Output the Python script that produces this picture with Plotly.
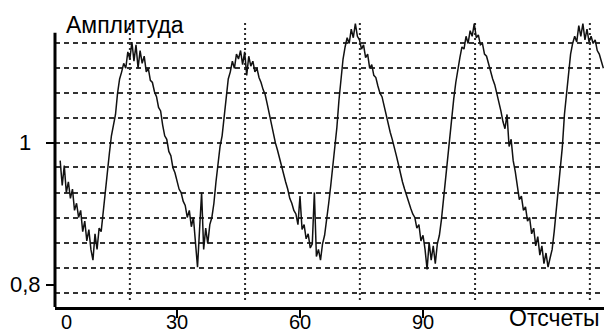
import numpy as np
import plotly.graph_objects as go

# Sample positions (half-sample resolution) and measured amplitude
samples = np.arange(1.5, 134.01, 0.5)
amplitude = [
    0.975, 0.940, 0.968, 0.930, 0.945, 0.922, 0.935, 0.905, 0.915, 0.895,
    0.905, 0.875, 0.890, 0.862, 0.878, 0.850, 0.835, 0.872, 0.850, 0.880,
    0.875, 0.905, 0.935, 0.958, 0.985, 1.010, 1.025, 1.040, 1.070, 1.090,
    1.100, 1.112, 1.105, 1.128, 1.118, 1.142, 1.115, 1.138, 1.105, 1.130,
    1.112, 1.122, 1.100, 1.105, 1.088, 1.085, 1.072, 1.065, 1.050, 1.045,
    1.025, 1.010, 1.005, 0.988, 0.982, 0.965, 0.958, 0.945, 0.935, 0.930,
    0.918, 0.912, 0.895, 0.905, 0.882, 0.895, 0.860, 0.825, 0.878, 0.930,
    0.850, 0.880, 0.858, 0.885, 0.895, 0.915, 0.945, 0.975, 0.995, 1.010,
    1.040, 1.060, 1.090, 1.100, 1.115, 1.105, 1.125, 1.118, 1.130, 1.110,
    1.128, 1.095, 1.122, 1.108, 1.115, 1.100, 1.105, 1.092, 1.085, 1.075,
    1.068, 1.055, 1.040, 1.030, 1.010, 1.000, 0.990, 0.978, 0.968, 0.955,
    0.945, 0.935, 0.922, 0.915, 0.905, 0.900, 0.885, 0.925, 0.878, 0.885,
    0.865, 0.872, 0.852, 0.858, 0.930, 0.840, 0.850, 0.835, 0.858, 0.870,
    0.890, 0.915, 0.940, 0.965, 0.995, 1.022, 1.060, 1.095, 1.118, 1.135,
    1.148, 1.140, 1.160, 1.148, 1.168, 1.150, 1.145, 1.132, 1.138, 1.120,
    1.125, 1.105, 1.110, 1.095, 1.092, 1.080, 1.070, 1.065, 1.052, 1.040,
    1.030, 1.015, 1.005, 0.995, 0.982, 0.970, 0.955, 0.945, 0.935, 0.925,
    0.918, 0.908, 0.900, 0.895, 0.880, 0.885, 0.862, 0.870, 0.850, 0.822,
    0.860, 0.835, 0.855, 0.830, 0.858, 0.870, 0.892, 0.920, 0.948, 0.985,
    1.010, 1.035, 1.062, 1.085, 1.105, 1.120, 1.135, 1.132, 1.150, 1.140,
    1.158, 1.150, 1.168, 1.148, 1.152, 1.138, 1.140, 1.125, 1.122, 1.110,
    1.102, 1.090, 1.082, 1.070, 1.060, 1.045, 1.030, 1.020, 1.040, 0.995,
    1.005, 0.975, 0.960, 0.940, 0.920, 0.925, 0.905, 0.910, 0.890, 0.895,
    0.872, 0.880, 0.855, 0.868, 0.842, 0.855, 0.830, 0.845, 0.825, 0.838,
    0.850, 0.875, 0.905, 0.935, 0.965, 0.995, 1.040, 1.070, 1.095, 1.125,
    1.140, 1.150, 1.142, 1.165, 1.150, 1.168, 1.145, 1.160, 1.142, 1.150,
    1.140, 1.145, 1.130, 1.125, 1.115, 1.105,
]

# Axis ticks and grid positions
x_ticks = [30, 60, 90]
x_tick_text = ["30", "60", "90"]
y_ticks = [0.8, 1.0]
y_tick_text = ["0,8", "1"]
grid_y = [1.141, 1.106, 1.070, 1.035, 1.000, 0.966, 0.930, 0.894, 0.859, 0.824, 0.789]
peak_marks = [18.5, 46.6, 74.6, 102.7, 130.7]

FONT = "Arial, Liberation Sans, sans-serif"
X_RANGE = [0.24, 134.15]
Y_RANGE = [0.769, 1.180]
LABEL_FONT = dict(family=FONT, size=20, color="black")

fig = go.Figure()
fig.add_trace(go.Scatter(
    x=samples, y=amplitude, mode="lines",
    line=dict(color="#111111", width=1.5),
    hoverinfo="skip",
))

shapes = []
# dotted verticals at each peak
for xv in peak_marks:
    shapes.append(dict(
        type="line", xref="x", yref="y", x0=xv, x1=xv, y0=0.779, y1=1.169,
        line=dict(color="#2a2a2a", width=2, dash="2px,3px"), layer="below",
    ))
# left axis line
shapes.append(dict(
    type="line", xref="paper", yref="y", x0=0, x1=0, y0=Y_RANGE[0], y1=1.155,
    line=dict(color="black", width=3),
))

annotations = [
    dict(text="Амплитуда", xref="paper", yref="paper", x=0.017, y=0.966,
         xanchor="left", yanchor="middle", showarrow=False,
         font=dict(family=FONT, size=23, color="black")),
    dict(text="Отсчеты", xref="paper", yref="paper", x=0.9945, y=-0.038,
         xanchor="right", yanchor="middle", showarrow=False,
         font=dict(family=FONT, size=23, color="black")),
    # the zero label sits just right of the corner
    dict(text="0", xref="paper", yref="paper", x=0, y=0, xshift=11, yshift=-28,
         xanchor="center", yanchor="bottom", showarrow=False, font=LABEL_FONT),
]
for xv, txt in zip(x_ticks, x_tick_text):
    annotations.append(dict(
        text=txt, xref="x", yref="paper", x=xv, y=0, yshift=-28,
        xanchor="center", yanchor="bottom", showarrow=False, font=LABEL_FONT))
for yv, txt, shift in zip(y_ticks, y_tick_text, [-12, -22]):
    annotations.append(dict(
        text=txt, xref="paper", yref="y", x=0, y=yv, xshift=shift,
        xanchor="right", yanchor="middle", showarrow=False,
        font=dict(family=FONT, size=22, color="black")))

fig.update_layout(
    width=604, height=336,
    margin=dict(l=55, r=0, t=15, b=29),
    paper_bgcolor="white", plot_bgcolor="white",
    showlegend=False,
    shapes=shapes,
    annotations=annotations,
    xaxis=dict(
        range=X_RANGE, showgrid=False, zeroline=False, automargin=False,
        showline=True, linecolor="black", linewidth=3,
        ticks="outside", ticklen=8, tickwidth=2, tickcolor="black",
        tickvals=x_ticks, showticklabels=False,
    ),
    yaxis=dict(
        range=Y_RANGE, showgrid=False, zeroline=False, showline=False,
        automargin=False,
        ticks="outside", ticklen=8, tickwidth=2, tickcolor="black",
        tickvals=y_ticks, showticklabels=False,
        minor=dict(tickvals=grid_y, showgrid=True, gridcolor="#333333",
                   gridwidth=1.6, griddash="5px,4px", ticks=""),
    ),
)

fig.write_html("out.html")
